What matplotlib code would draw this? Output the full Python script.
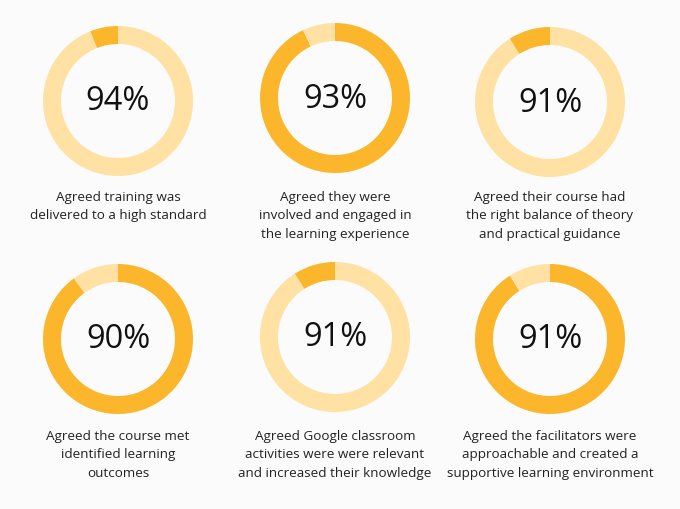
import matplotlib
matplotlib.use("Agg")
import matplotlib.pyplot as plt

values = [94, 93, 91, 90, 91, 91]
labels = ["94%", "93%", "91%", "90%", "91%", "91%"]
captions = [
    "Agreed training was\ndelivered to a high standard",
    "Agreed they were\ninvolved and engaged in\nthe learning experience",
    "Agreed their course had\nthe right balance of theory\nand practical guidance",
    "Agreed the course met\nidentified learning\noutcomes",
    "Agreed Google classroom\nactivities were were relevant\nand increased their knowledge",
    "Agreed the facilitators were\napproachable and created a\nsupportive learning environment",
]
main_dark = [False, True, False, True, False, True]

DARK = "#FBB62B"
LIGHT = "#FFE1A3"

plt.rcParams['font.family'] = ['Open Sans', 'DejaVu Sans']
fig = plt.figure(figsize=(6.8, 5.1), dpi=100, facecolor="#FBFBFB")
ax = fig.add_axes([0, 0, 1, 1])

centers = [(118, 102), (335, 99), (550, 103), (118, 340), (335, 338), (550, 340)]
cap_y = [197, 197, 197, 436, 436, 436]
for i, (v, lab, cap, dk) in enumerate(zip(values, labels, captions, main_dark)):
    cx, cy = centers[i]
    c1, c2 = (DARK, LIGHT) if dk else (LIGHT, DARK)
    ax.pie([v, 100 - v], colors=[c1, c2], startangle=90, counterclock=False,
           radius=75, center=(cx, 510 - cy), frame=True,
           wedgeprops=dict(width=18, linewidth=0))
    ax.text(cx, 510 - cy, lab, ha='center', va='center', fontsize=23.5, color='#111111')
    ax.text(cx, 510 - cap_y[i] + 6, cap, ha='center', va='top', fontsize=9.7,
            color='#222222', linespacing=1.55)
ax.set_xlim(0, 680); ax.set_ylim(0, 510); ax.set_aspect('equal'); ax.axis('off')
fig.savefig("out.png", dpi=100, facecolor=fig.get_facecolor())
